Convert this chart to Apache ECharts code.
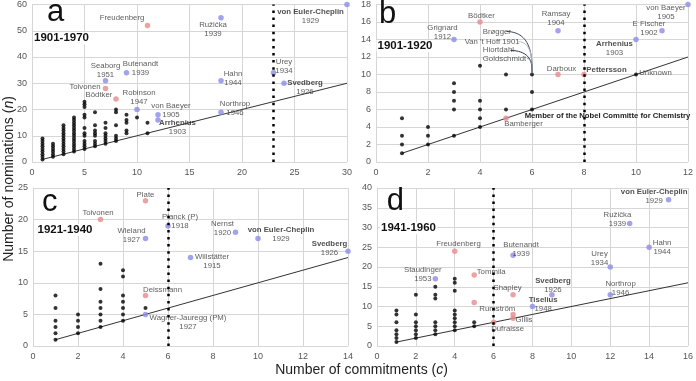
<!DOCTYPE html>
<html><head><meta charset="utf-8">
<script src="https://cdn.jsdelivr.net/npm/echarts@6/dist/echarts.min.js"></script>
<style>html,body{margin:0;padding:0;background:#fff}#c{width:696px;height:381px}</style>
</head><body><div id="c"></div>
<script>
// ---------- DATA ----------
// black points: [commitments, [nominations...]]
const aBlack = [[1,[1,2,3,4,5,6,7,8,9]],[2,[2,3,4,5,6,7]],[3,[3,4,5,6,7,8,9,10,11,12,13,14]],
  [4,[4,5,6,7,8,9,10,11,12,13,14,15,16,17]],[5,[5,6,7,8,10,11,13,17,18,21,22,23]],
  [6,[6,7,8,10,11,12,14,19]],[7,[7,8,9,10,11,13,15]],[8,[8,9,10,14,19,20]],
  [9,[11,12,15,16,18]],[10,[17]],[11,[11,15]]];
const aRed = [[11,52,'Freudenberg'],[7,28,'Toivonen'],[8,24,'Bödtker']];
const aBlue = [[7,31,'Seaborg','1951'],[9,34,'Butenandt','1939'],[10,20,'Robinson','1947'],
  [12,18,'von Baeyer','1905'],[12,16,'Arrhenius','1903'],[18,55,'Ružička','1939'],
  [18,31,'Hahn','1944'],[18,19,'Northrop','1946'],[23,34,'Urey','1934'],
  [24,30,'Svedberg','1926'],[30,60,'von Euler-Cheplin','1929']];

const bBlack = [[1,[1,2,3,5]],[2,[2,3,4]],[3,[3,6,7,8,9]],[4,[4,5,6,7,11]],[5,[6,10]],[6,[6,8,10]]];
const bBlackNamed = [[10,10,'Unknown']];
const bRed = [[4,16,'Bödtker'],[5,5,'Bamberger'],[7,10,'Darboux'],[8,10,'Pettersson']];
const bBlue = [[3,14,'Grignard','1912'],[7,15,'Ramsay','1904'],[11,15,'E Fischer','1902'],
  [10,14,'Arrhenius','1903'],[12,18,'von Baeyer','1905']];
const bLeaderNames = ['Brøgger',"Van 't Hoff 1901",'Hiortdahl','Goldschmidt'];
const bLeaderTarget = [6,10];

const cBlack = [[1,[1,2,3,4,6,8]],[2,[2,3,4,5]],[3,[3,4,5,6,7,9,13]],[4,[4,5,6,7,8,11,12]],[5,[6]]];
const cRed = [[5,23,'Plate'],[3,20,'Toivonen'],[5,8,'Deissmann']];
const cBlue = [[6,19,'Planck (P)','1918'],[5,17,'Wieland','1927'],[7,14,'Willstätter','1915'],
  [9,18,'Nernst','1920'],[10,17,'von Euler-Cheplin','1929'],[14,15,'Svedberg','1926'],
  [5,5,'Wagner-Jauregg (PM)','1927']];

const dBlack = [[1,[1,2,3,4,6,8,9]],[2,[2,3,4,5,6,8,13]],[3,[3,4,5,6,12,13,15]],
  [4,[4,5,6,7,8,9,14,16,17]],[5,[5,6]]];
const dRed = [[4,24,'Freudenberg'],[5,18,'Tommila'],[5,11,''],[7,13,'Shapley'],
  [7,8,'Rumström'],[7,7,'Gillis'],[6,6,'Dufraisse']];
const dBlue = [[3,17,'Staudinger','1953'],[7,23,'Butenandt','1939'],[9,13,'Svedberg','1926'],
  [8,10,'Tiselius','1948'],[12,20,'Urey','1934'],[12,13,'Northrop','1946'],
  [13,31,'Ružička','1939'],[14,25,'Hahn','1944'],[15,37,'von Euler-Cheplin','1929']];

const panelLetters = ['a','b','c','d'];
const periods = ['1901-1970','1901-1920','1921-1940','1941-1960'];
const xMaxes = [30,12,14,16], xSteps = [5,2,2,2];
const yMaxes = [60,18,25,40], ySteps = [10,2,5,5];
const cutoffs = [23,8,6,6];
const boldNames = {a:['Arrhenius','Svedberg','von Euler-Cheplin'], b:['Arrhenius','Pettersson'],
  c:['von Euler-Cheplin','Svedberg'], d:['von Euler-Cheplin','Svedberg','Tiselius']};

// ---------- LAYOUT / STYLE ----------
const FONT = "'Liberation Sans', Arial, sans-serif";
const RED = '#e98b8b', BLUE = '#8b8be9';
const grids = [
  {left:32, top:4, width:315, height:158},
  {left:376, top:4, width:314, height:158},
  {left:33, top:188, width:315, height:158},
  {left:377, top:188, width:313, height:158}];
const labelOffsets = {
  a:{'Freudenberg':[-25.5,-8],'Ružička':[-8,11.5],'von Euler-Cheplin':[-36.5,11.5],'Seaborg':[0,-10.5],
     'Butenandt':[14,-4],'Toivonen':[-20.5,-2],'Bödtker':[-17,-4],'Robinson':[2,-12],'von Baeyer':[13,-4.5],
     'Arrhenius':[19.5,7],'Hahn':[12,-2],'Northrop':[14,-3.5],'Urey':[10.5,-6.5],'Svedberg':[21,4]},
  b:{'Grignard':[-11.5,-7.5],'Bödtker':[1.5,-6.5],'Ramsay':[-2,-12],'von Baeyer':[-22,7.5],'E Fischer':[-13,-2],
     'Arrhenius':[-21.5,8.5],'Pettersson':[22.5,-5],'Darboux':[3.5,-6],'Unknown':[19.5,-2],'Bamberger':[17.5,6]},
  c:{'Plate':[0,-6],'Toivonen':[-2.5,-6.5],'Planck (P)':[12,-5],'Wieland':[-14,-3.7],'Willstätter':[21.5,3.5],
     'Nernst':[-13,-3.5],'von Euler-Cheplin':[23,-4],'Svedberg':[-18.5,-2.5],'Deissmann':[17,-6],
     'Wagner-Jauregg (PM)':[42.5,8.3]},
  d:{'Freudenberg':[3.7,-7.3],'Tommila':[17,-3.2],'Staudinger':[-12.5,-4],'Butenandt':[8,-6],'Shapley':[-5.5,-7],
     'Svedberg':[1,-9.5],'Tiselius':[10.7,-2],'Rumström':[-15.8,-5.2],'Gillis':[11,2],'Dufraisse':[14,7],
     'Urey':[-10.7,-9],'Northrop':[10.3,-6.5],'Ružička':[-12.2,-3.7],'Hahn':[13,0],'von Euler-Cheplin':[-14.4,-3]}};
// leader-label anchors (data coords of text start) and leader line starts, panel b
const bLeaderText = [[4.108,14.92],[3.41,13.78],[4.108,12.76],[4.108,11.81]];
const bLeaderStart = [[5.02,14.92],[5.48,13.76],[5.17,12.76],[5.82,11.83]];
const bLeaderColors = ['#3d4a5c','#b4bccb','#2e3a4a','#8090a2'];

const rich = {
  n:{fontSize:7.8, color:'#333', lineHeight:9, fontFamily:FONT},
  b:{fontSize:7.8, color:'#222', lineHeight:9, fontFamily:FONT, fontWeight:'bold'}};

function flatten(cols){ const out=[]; cols.forEach(([x,ys])=>ys.forEach(y=>out.push([x,y]))); return out; }
function labeled(p, arr){
  return arr.map(([x,y,name,year])=>{
    const off = labelOffsets[p][name] || [0,0];
    const tag = boldNames[p].includes(name) ? 'b' : 'n';
    const txt = '{'+tag+'|'+name+'}' + (year ? '\n{n|'+year+'}' : '');
    return {value:[x,y], label:{show:!!name, formatter:txt, offset:off}};
  });
}
const lblBase = {position:'inside', align:'center', verticalAlign:'middle', rich, color:'#333'};

const xAxis=[], yAxis=[], series=[];
const blacks=[aBlack,bBlack,cBlack,dBlack], reds=[aRed,bRed,cRed,dRed], blues=[aBlue,bBlue,cBlue,dBlue];
for(let i=0;i<4;i++){
  const p = panelLetters[i];
  const axisCommon = {axisLine:{show:false}, axisTick:{show:false},
    splitLine:{show:true, lineStyle:{color:'#d6d6d6', width:1}},
    axisLabel:{fontSize:9, color:'#555', fontFamily:FONT}};
  xAxis.push(Object.assign({type:'value', gridIndex:i, min:0, max:xMaxes[i], interval:xSteps[i]}, axisCommon,
    {axisLabel:Object.assign({}, axisCommon.axisLabel, {margin:6})}));
  yAxis.push(Object.assign({type:'value', gridIndex:i, min:0, max:yMaxes[i], interval:ySteps[i]}, axisCommon,
    {axisLabel:Object.assign({}, axisCommon.axisLabel, {margin:5})}));
  const ax = {xAxisIndex:i, yAxisIndex:i};
  series.push(Object.assign({type:'line', data:[[1,1],[xMaxes[i],xMaxes[i]]], symbol:'none', silent:true,
    lineStyle:{color:'#333', width:1}, z:2}, ax));
  series.push(Object.assign({type:'scatter', data:flatten(blacks[i]), symbolSize:4,
    itemStyle:{color:'#000'}, z:3, silent:true}, ax));
  series.push(Object.assign({type:'scatter', data:labeled(p, reds[i]), symbolSize:5.5,
    itemStyle:{color:RED}, label:Object.assign({}, lblBase), z:4, silent:true}, ax));
  series.push(Object.assign({type:'scatter', data:labeled(p, blues[i]), symbolSize:5.5,
    itemStyle:{color:BLUE}, label:Object.assign({}, lblBase), z:4, silent:true}, ax));
  // dotted cutoff line
  series.push(Object.assign({type:'line', data:[], silent:true, z:6,
    markLine:{symbol:'none', silent:true, label:{show:false}, animation:false,
      lineStyle:{color:'#000', width:2.5, type:[2.5,4.6], cap:'butt'},
      data:[{xAxis:cutoffs[i]}]}}, ax));
}
// panel b extras
series.push({type:'scatter', xAxisIndex:1, yAxisIndex:1, data:labeled('b', bBlackNamed), symbolSize:4,
  itemStyle:{color:'#000'}, label:Object.assign({}, lblBase), z:4, silent:true});
// curved leader lines (custom bezier between data coords)
series.push({type:'custom', xAxisIndex:1, yAxisIndex:1, coordinateSystem:'cartesian2d', z:5, silent:true,
  data: bLeaderStart.map((s,k)=>[s[0], s[1], bLeaderTarget[0], bLeaderTarget[1]+0.15, k]),
  renderItem:(params, api)=>{
    const p1 = api.coord([api.value(0), api.value(1)]);
    const p2 = api.coord([api.value(2), api.value(3)]);
    const k = api.value(4);
    return {type:'bezierCurve', shape:{x1:p1[0], y1:p1[1], x2:p2[0], y2:p2[1],
        cpx1:p1[0]+(p2[0]-p1[0])*0.75, cpy1:p1[1]+0.5, cpx2:p2[0]+1, cpy2:p1[1]+(p2[1]-p1[1])*0.35},
      style:{stroke:bLeaderColors[k], lineWidth:1, fill:null}};
  }});
series.push({type:'scatter', xAxisIndex:1, yAxisIndex:1, symbolSize:1, itemStyle:{color:'rgba(0,0,0,0)'}, z:5, silent:true,
  data: bLeaderNames.map((n,k)=>({value:bLeaderText[k], label:{show:true, formatter:'{n|'+n+'}'}})),
  label:{show:true, position:'inside', align:'left', verticalAlign:'middle', rich, color:'#333'}});

const graphic = [];
const letterPos = [[47,12.3],[379,14.3],[42,202.6],[386.7,201]];
const periodPos = [[33,38.3],[376.5,46],[36.5,230],[380,228.3]];
for(let i=0;i<4;i++){
  graphic.push({type:'text', x:letterPos[i][0], y:letterPos[i][1], z:10,
    style:{text:panelLetters[i], font:'31px '+FONT, fill:'#111', verticalAlign:'middle', align:'left'}});
  graphic.push({type:'text', x:periodPos[i][0], y:periodPos[i][1], z:10,
    style:{text:periods[i], font:'bold 11.5px '+FONT, fill:'#111', verticalAlign:'middle', align:'left',
      backgroundColor:'#fff', padding:[0,1]}});
}
graphic.push({type:'text', x:607.5, y:116, z:10, style:{text:'Member of the Nobel Committe for Chemistry',
  font:'bold 7.7px '+FONT, fill:'#222', align:'center', verticalAlign:'middle'}});
graphic.push({type:'text', x:361.5, y:370, style:{text:'{r|Number of commitments (}{i|c}{r|)}',
  rich:{r:{fontSize:14, fontFamily:FONT, fill:'#222'}, i:{fontSize:14, fontFamily:FONT, fontStyle:'italic', fill:'#222'}},
  align:'center', verticalAlign:'middle'}});
graphic.push({type:'text', x:9, y:179, rotation:Math.PI/2, style:{text:'{r|Number of nominations (}{i|n}{r|)}',
  rich:{r:{fontSize:14, fontFamily:FONT, fill:'#222'}, i:{fontSize:14, fontFamily:FONT, fontStyle:'italic', fill:'#222'}},
  align:'center', verticalAlign:'middle'}});

const chart = echarts.init(document.getElementById('c'), null, {renderer:'canvas'});
chart.setOption({animation:false, backgroundColor:'#fff', grid:grids, xAxis, yAxis, series, graphic});
</script></body></html>
